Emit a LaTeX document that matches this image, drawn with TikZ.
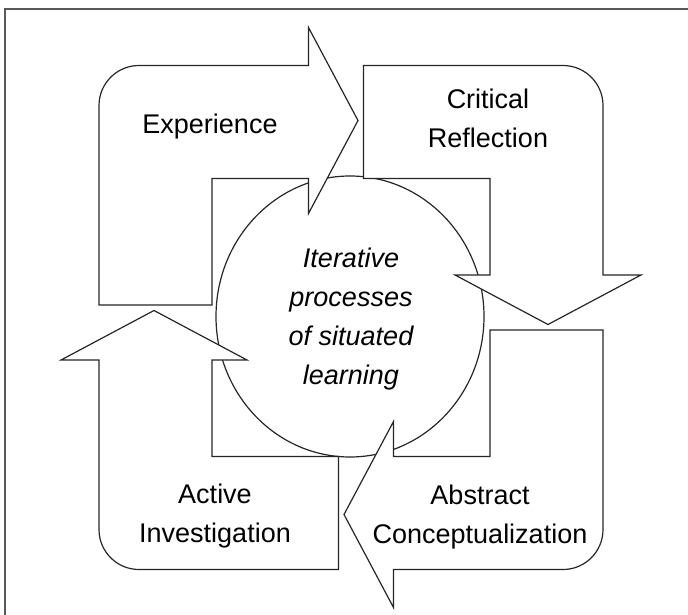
\documentclass[tikz,border=0pt]{standalone}
\usepackage{fontspec}
\setmainfont{Liberation Sans}
\usepackage{tikz}
\usetikzlibrary{shapes.geometric}

\begin{document}
\begin{tikzpicture}[x=1pt, y=-1pt,
	bentarrow/.style={draw=black!85, line width=1.2pt, fill=white, line join=miter},
	phase/.style={align=center, font=\fontsize{27}{39}\selectfont, inner sep=0pt}]
	\useasboundingbox (0,0) rectangle (688,615);
	\draw[color=black!65, line width=1.6pt] (5,615) -- (5,9) -- (688,9);

	\node[draw=black!85, line width=1.2pt, fill=white, ellipse, minimum width=268, minimum height=281, inner sep=0pt] (hub) at (350,316.5) {};

	\foreach \a in {0,-90,-180,-270} {
		\draw[bentarrow, shift={(351,317.5)}, rotate=\a] (-252,-12.5) -- (-252,-212) arc[start angle=180, end angle=270, radius=40] -- (-42.5,-252) -- (-42.5,-290) -- (7,-197) -- (-42.5,-104) -- (-42.5,-139) -- (-139,-139) -- (-139,-12.5) -- cycle;
	}

	\node[phase] (experience) at (210,127) {Experience};
	\node[phase] (reflection) at (488,118) {Critical \\ Reflection};
	\node[phase] (abstraction) at (480,517) {Abstract \\ Conceptualization};
	\node[phase] (investigation) at (215,516) {Active \\ Investigation};
	\node[phase, font=\fontsize{27}{39}\selectfont\itshape] (learning) at (351,319) {Iterative \\ processes \\ of situated \\ learning};

\end{tikzpicture}
\end{document}
